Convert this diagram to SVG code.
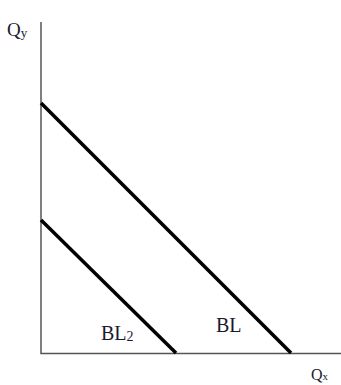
<svg xmlns="http://www.w3.org/2000/svg" width="341" height="385" viewBox="0 0 341 385">
<style>
.axis{stroke:#555;stroke-width:1.5;fill:none}
.bl{stroke:#000;stroke-width:3.5;fill:none}
text{font-family:"Liberation Serif","Times New Roman",serif;fill:#1a1a2e}
</style>
<rect width="341" height="385" fill="#fff"/>
<g id="axes">
<path class="axis" d="M41,22 V353.5 H341"/>
</g>
<g id="connectors">
<line id="BL-line" class="bl" x1="41" y1="103" x2="291" y2="353"/>
<line id="BL2-line" class="bl" x1="41" y1="220" x2="176" y2="353"/>
</g>
<g id="labels">
<text x="7" y="36" font-size="19">Q<tspan font-size="13" dy="1">y</tspan></text>
<text x="311" y="380" font-size="16">Q<tspan font-size="11">x</tspan></text>
<text x="101" y="340" font-size="20">BL<tspan font-size="14" dy="1">2</tspan></text>
<text x="216" y="332" font-size="20">BL</text>
</g>
</svg>
